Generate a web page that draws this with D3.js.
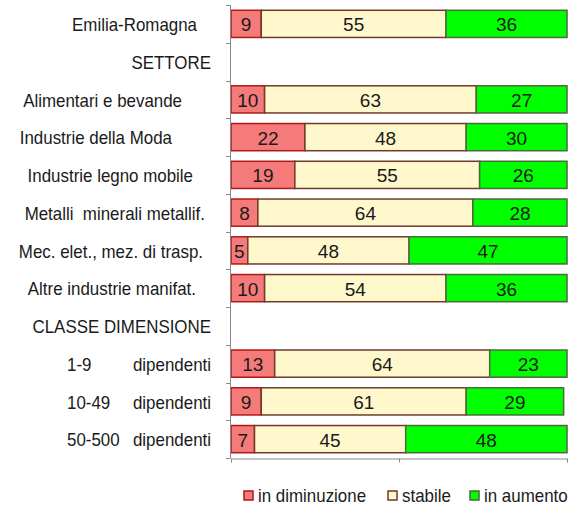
<!DOCTYPE html>
<html>
<head>
<meta charset="utf-8">
<script src="https://cdn.jsdelivr.net/npm/d3@7/dist/d3.min.js"></script>
<style>
  body { margin: 0; background: #fff; }
  text { font-family: "Liberation Sans", Arial, sans-serif; fill: #1a1a1a; }
</style>
</head>
<body>
<div class="chart"></div>
<script>
var categories = ["Emilia-Romagna", "SETTORE", "Alimentari e bevande", "Industrie della Moda",
  "Industrie legno mobile", "Metalli  minerali metallif.", "Mec. elet., mez. di trasp.",
  "Altre industrie manifat.", "CLASSE DIMENSIONE", "1-9 dipendenti", "10-49 dipendenti", "50-500 dipendenti"];
var inDiminuzione = [9, null, 10, 22, 19, 8, 5, 10, null, 13, 9, 7];
var stabile = [55, null, 63, 48, 55, 64, 48, 54, null, 64, 61, 45];
var inAumento = [36, null, 27, 30, 26, 28, 47, 36, null, 23, 29, 48];
var seriesNames = ["in diminuzione", "stabile", "in aumento"];
var xTicks = [0, 50, 100];

// layout only: where each category label ends
var labelEnd = [197, 211, 182, 172, 193, 205, 203, 196, 211, 211, 211, 211];

var colors = ["#f57a7a", "#fff8cc", "#00ff00"];
var strokes = ["#b01818", "#6e3b2b", "#4a6a3a"];

var width = 581, height = 510;

var svg = d3.select('.chart').append('svg')
  .attr('width', width)
  .attr('height', height);

var y = d3.scaleBand()
  .domain(categories)
  .range([5, 458])
  .paddingInner(0.28)
  .paddingOuter(0.14);

var x = d3.scaleLinear()
  .domain([0, 100])
  .range([231, 567]);

// build rows for stacking
var rows = categories.map(function(c, i) {
  return { cat: c, vals: [inDiminuzione[i], stabile[i], inAumento[i]] };
});

var segs = [];
rows.forEach(function(r) {
  if (r.vals[0] === null) return;
  var acc = 0;
  r.vals.forEach(function(v, k) {
    segs.push({ cat: r.cat, k: k, x0: acc, x1: acc + v, v: v });
    acc += v;
  });
});

svg.selectAll('rect.seg')
  .data(segs)
  .enter()
  .append('rect')
  .attr('class', 'seg')
  .attr('x', function(d) { return x(d.x0); })
  .attr('y', function(d) { return y(d.cat); })
  .attr('width', function(d) { return x(d.x1) - x(d.x0); })
  .attr('height', y.bandwidth())
  .attr('fill', function(d) { return colors[d.k]; })
  .attr('stroke', function(d) { return strokes[d.k]; })
  .attr('stroke-width', 1.5);

svg.selectAll('text.val')
  .data(segs)
  .enter()
  .append('text')
  .attr('class', 'val')
  .attr('x', function(d) { return (x(d.x0) + x(d.x1)) / 2; })
  .attr('y', function(d) { return y(d.cat) + y.bandwidth() / 2 + 1; })
  .attr('text-anchor', 'middle')
  .attr('dominant-baseline', 'central')
  .style('font-size', '19px')
  .text(function(d) { return d.v; });

// axes
var axisColor = "#8a8a8a";
var step = y.step();
var bounds = d3.range(categories.length + 1).map(function(i) { return 5 + i * step; });

svg.append('line')
  .attr('x1', 230.5).attr('x2', 230.5)
  .attr('y1', 5).attr('y2', 458)
  .attr('stroke', axisColor);

svg.selectAll('line.ytick')
  .data(bounds)
  .enter()
  .append('line')
  .attr('class', 'ytick')
  .attr('x1', 226).attr('x2', 230.5)
  .attr('y1', function(d) { return Math.round(d) + 0.5; })
  .attr('y2', function(d) { return Math.round(d) + 0.5; })
  .attr('stroke', axisColor);

var xAxis = svg.append('g')
  .attr('transform', 'translate(0,458.5)')
  .call(d3.axisBottom(x).tickValues(xTicks).tickSize(4).tickFormat(''));
xAxis.select('.domain').attr('stroke', axisColor);
xAxis.selectAll('line').attr('stroke', axisColor);

// category labels (slightly condensed like the original)
var addLabel = function(tx, ty, anchor, str) {
  svg.append('text')
    .attr('transform', 'translate(' + tx + ',' + ty + ') scale(0.94,1)')
    .attr('text-anchor', anchor)
    .attr('dominant-baseline', 'central')
    .style('font-size', '18px')
    .style('white-space', 'pre')
    .text(str);
};

categories.forEach(function(c, i) {
  var cy = y(c) + y.bandwidth() / 2 + 1;
  var m = c.match(/^([\d-]+) (dipendenti)$/);
  if (m) {
    addLabel(67, cy, 'start', m[1]);
    addLabel(labelEnd[i], cy, 'end', m[2]);
  } else {
    addLabel(labelEnd[i], cy, 'end', c);
  }
});

// legend
var legendX = [244, 388, 470];
var legend = svg.selectAll('g.legend')
  .data(seriesNames)
  .enter()
  .append('g')
  .attr('class', 'legend')
  .attr('transform', function(d, i) { return 'translate(' + legendX[i] + ',491)'; });

legend.append('rect')
  .attr('width', 9).attr('height', 9)
  .attr('fill', function(d, i) { return colors[i]; })
  .attr('stroke', function(d, i) { return strokes[i]; })
  .attr('stroke-width', 1.5);

legend.append('text')
  .attr('transform', 'translate(14,5) scale(0.94,1)')
  .attr('dominant-baseline', 'central')
  .style('font-size', '18px')
  .text(function(d) { return d; });
</script>
</body>
</html>
